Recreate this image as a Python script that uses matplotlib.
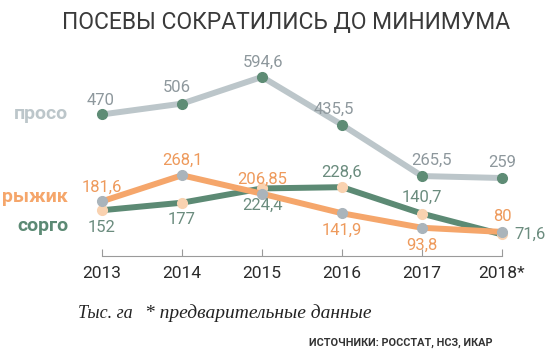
import matplotlib
matplotlib.use('Agg')
import matplotlib.pyplot as plt

# данные (тыс. га)
anni = [2013, 2014, 2015, 2016, 2017, 2018]
etichette_anni = ['2013', '2014', '2015', '2016', '2017', '2018*']
proso = [470, 506, 594.6, 435.5, 265.5, 259]
ryzhik = [181.6, 268.1, 206.85, 141.9, 93.8, 80]
sorgo = [152, 177, 224.4, 228.6, 140.7, 71.6]

proso_txt = ['470', '506', '594,6', '435,5', '265,5', '259']
ryzhik_txt = ['181,6', '268,1', '206,85', '141,9', '93,8', '80']
sorgo_txt = ['152', '177', '224,4', '228,6', '140,7', '71,6']

NARROW = ['Roboto', 'DejaVu Sans']
SERIF = ['Liberation Serif', 'DejaVu Serif']

c_proso = '#bcc6ca'
c_proso_txt = '#8e989d'
c_ryzhik = '#f5a66b'
c_sorgo = '#5c8a74'

fig = plt.figure(figsize=(5.52, 3.53), dpi=100)
ax = fig.add_axes([0, 0, 1, 1])
ax.set_xlim(2011.725, 2018.625)
ax.set_ylim(-322, 850)

# linee con marker di colore "scambiato"
ax.plot(anni, proso, color=c_proso, lw=4.3, marker='o', ms=7,
        mfc='#5e8c75', mec='#5e8c75', solid_capstyle='round', zorder=3)
ax.plot(anni, sorgo, color=c_sorgo, lw=4.3, marker='o', ms=7,
        mfc='#f9d2b0', mec='#f9d2b0', solid_capstyle='round', zorder=3)
ax.plot(anni, ryzhik, color=c_ryzhik, lw=4.3, marker='o', ms=7,
        mfc='#aab4bb', mec='#aab4bb', solid_capstyle='round', zorder=4)

# etichette dei valori (offset in punti)
off_proso = [(-1, 5), (-4, 6), (1, 5), (-6, 6), (7, 6), (0, 6)]
off_ryzhik = [(0, 5), (0, 5), (0, 5), (0, -7), (0, -7), (0, 6)]
off_sorgo = [(0, -7), (0, -7), (0, -7), (0, 5), (0, 6), (20, 0)]

def etichette(vals, txts, offs, col):
    for x, v, t, o in zip(anni, vals, txts, offs):
        if o[1] > 0:
            va = 'bottom'
        elif o[1] < 0:
            va = 'top'
        else:
            va = 'center'
        ax.annotate(t, (x, v), xytext=o, textcoords='offset points',
                    ha='center', va=va, fontsize=12, color=col, family=NARROW)

etichette(proso, proso_txt, off_proso, c_proso_txt)
etichette(ryzhik, ryzhik_txt, off_ryzhik, '#ee9a5c')
etichette(sorgo, sorgo_txt, off_sorgo, '#6b8c7e')

# asse
for s in ['top', 'left', 'right']:
    ax.spines[s].set_visible(False)
ax.spines['bottom'].set_position(('data', 0))
ax.spines['bottom'].set_bounds(2013, 2018)
ax.spines['bottom'].set_color('#9a9a9a')
ax.set_yticks([])
ax.set_xticks(anni)
ax.set_xticklabels(etichette_anni, family=NARROW, fontsize=12.5, color='#2a2a2a')
ax.tick_params(axis='x', direction='in', length=5, color='#9a9a9a', pad=7)

# nomi delle serie
ax.text(2012.575, 470, 'просо', ha='right', va='center', fontsize=14,
        fontweight='bold', color=c_proso, family=NARROW)
ax.text(2012.575, 195, 'рыжик', ha='right', va='center', fontsize=14,
        fontweight='bold', color=c_ryzhik, family=NARROW)
ax.text(2012.575, 100, 'сорго', ha='right', va='center', fontsize=14,
        fontweight='bold', color=c_sorgo, family=NARROW)

# titolo e note
fig.text(0.518, 0.937, 'ПОСЕВЫ СОКРАТИЛИСЬ ДО МИНИМУМА', ha='center', va='center',
         fontsize=16.5, fontweight='normal', color='#3a3a3a', family=NARROW)
fig.text(0.141, 0.113, 'Тыс. га', ha='left', va='center', fontsize=13,
         style='italic', color='#222222', family=SERIF)
fig.text(0.263, 0.113, '* предварительные данные', ha='left', va='center', fontsize=14,
         style='italic', color='#222222', family=SERIF)
fig.text(0.892, 0.03, 'ИСТОЧНИКИ: РОССТАТ, НСЗ, ИКАР', ha='right', va='center',
         fontsize=7.8, fontweight='bold', color='#333333', family=NARROW)

fig.savefig('out.png', dpi=100)
